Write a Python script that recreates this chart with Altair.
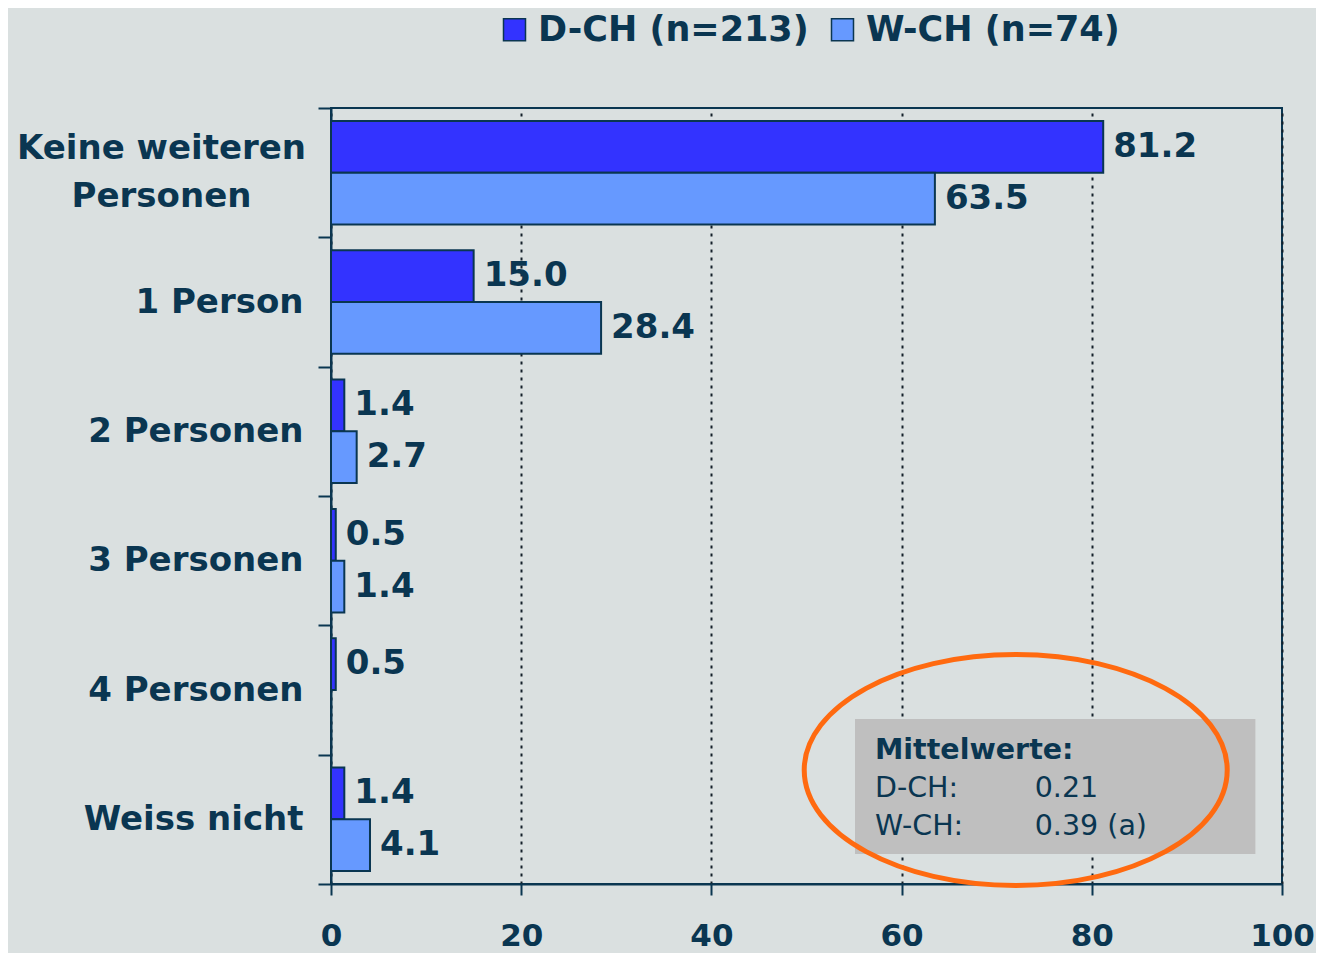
import altair as alt
import pandas as pd

categories = ["Keine weiteren Personen", "1 Person", "2 Personen", "3 Personen", "4 Personen", "Weiss nicht"]
series = ["D-CH (n=213)", "W-CH (n=74)"]
d_ch = [81.2, 15.0, 1.4, 0.5, 0.5, 1.4]
w_ch = [63.5, 28.4, 2.7, 1.4, None, 4.1]
colors = ["#3333ff", "#6699ff"]
x_ticks = [0, 20, 40, 60, 80, 100]

box_title = ["Mittelwerte:"]
box_labels = ["D-CH:", "W-CH:"]
box_values = ["0.21", "0.39 (a)"]

TXT = "#0a3651"
BG = "#dae0e0"
FONT = "DejaVu Sans"

rows = []
for c, a, b in zip(categories, d_ch, w_ch):
    if a is not None:
        rows.append({"cat": c, "series": series[0], "value": a})
    if b is not None:
        rows.append({"cat": c, "series": series[1], "value": b})
df = pd.DataFrame(rows)

multi_test = "datum.value == 'Keine weiteren Personen'"
label_expr = (
    "datum.value == 'Keine weiteren Personen' ? ['Keine weiteren', 'Personen'] : datum.label"
)

y_enc = alt.Y(
    "cat:N",
    sort=categories,
    scale=alt.Scale(paddingInner=0, paddingOuter=0),
    axis=alt.Axis(
        title=None, tickBand="extent", tickSize=13, tickColor=TXT, tickWidth=2,
        domainColor=TXT, domainWidth=2, labelFont=FONT, labelFontSize=34,
        labelFontWeight="bold", labelColor=TXT, labelLineHeight=48,
        labelLimit=500, labelExpr=label_expr, grid=False,
        labelAlign={"condition": {"test": multi_test, "value": "center"}, "value": "right"},
        labelPadding={"condition": {"test": multi_test, "value": 157}, "value": 15},
        labelOffset={"condition": {"test": multi_test, "value": -24}, "value": 0},
    ),
)
yoff = alt.YOffset("series:N", sort=series, scale=alt.Scale(paddingInner=0, paddingOuter=0.25))
x_enc = alt.X(
    "value:Q",
    scale=alt.Scale(domain=[0, 100], nice=False),
    axis=alt.Axis(
        title=None, values=x_ticks, grid=True, gridDash=[3, 5], gridColor="#14202a",
        gridWidth=2, gridOpacity=1, tickSize=11, tickColor=TXT, tickWidth=2,
        domainColor=TXT, domainWidth=2, labelFont=FONT, labelFontSize=31,
        labelFontWeight="bold", labelColor=TXT, labelPadding=26, format="d",
        labelFlush=False, labelOverlap=False,
    ),
)

bars = alt.Chart(df).mark_bar(stroke=TXT, strokeWidth=2).encode(
    x=x_enc,
    y=y_enc,
    yOffset=yoff,
    fill=alt.Fill(
        "series:N",
        scale=alt.Scale(domain=series, range=colors),
        legend=alt.Legend(title=None),
    ),
)

labels = alt.Chart(df).mark_text(
    align="left", baseline="middle", dx=10, font=FONT, fontSize=34,
    fontWeight="bold", color=TXT,
).encode(
    x="value:Q",
    y=alt.Y("cat:N", sort=categories),
    yOffset=alt.YOffset("series:N", sort=series),
    text=alt.Text("value:Q", format=".1f"),
)

box_df = pd.DataFrame({"x": [55.1], "x2": [97.2]})
box = alt.Chart(box_df).mark_rect(color="#bfbfbf").encode(
    x="x:Q", x2="x2:Q", y=alt.value(611), y2=alt.value(746)
)

title_df = pd.DataFrame({"x": [57.2], "t": box_title})
box_title_t = alt.Chart(title_df).mark_text(
    align="left", baseline="middle", font=FONT, fontSize=28.5, fontWeight="bold", color=TXT
).encode(x="x:Q", y=alt.value(642), text="t:N")

lab_df = pd.DataFrame({"x": [57.2, 57.2], "t": box_labels, "py": [680, 718]})
box_lab_t = alt.Chart(lab_df).mark_text(
    align="left", baseline="middle", font=FONT, fontSize=28.5, color=TXT
).encode(x="x:Q", y=alt.Y("py:Q", scale=None), text="t:N")

val_df = pd.DataFrame({"x": [74.0, 74.0], "t": box_values, "py": [680, 718]})
box_val_t = alt.Chart(val_df).mark_text(
    align="left", baseline="middle", font=FONT, fontSize=28.5, color=TXT
).encode(x="x:Q", y=alt.Y("py:Q", scale=None), text="t:N")

ry = 0.546
k = 0.5523
ky = k * ry
ell_path = (
    f"M 1 0 C 1 {ky:.4f} {k} {ry} 0 {ry} "
    f"C {-k} {ry} -1 {ky:.4f} -1 0 "
    f"C -1 {-ky:.4f} {-k} {-ry} 0 {-ry} "
    f"C {k} {-ry} 1 {-ky:.4f} 1 0 Z"
)
ell_df = pd.DataFrame({"x": [72.0]})
ellipse = alt.Chart(ell_df).mark_point(
    shape=ell_path, size=423 * 423, filled=False, stroke="#ff6a10",
    strokeWidth=5, opacity=1,
).encode(x="x:Q", y=alt.value(662))

chart = alt.layer(
    bars, labels, box, box_title_t, box_lab_t, box_val_t, ellipse
).properties(
    width=951, height=776,
    autosize=alt.AutoSizeParams(type="none"),
    padding={"left": 323, "top": 100, "right": 34, "bottom": 69},
    background=BG,
).configure_view(
    stroke=TXT, strokeWidth=2
).configure_legend(
    orient="none", legendX=166, legendY=-96, direction="horizontal",
    symbolType="square", symbolSize=484, symbolStrokeColor=TXT,
    symbolStrokeWidth=1.5, labelFont=FONT, labelFontSize=35,
    labelFontWeight="bold", labelColor=TXT, columnPadding=16,
    labelOffset=6, padding=0, labelLimit=500,
)

chart.save("out.html", embed_options={"renderer": "svg", "actions": False})
